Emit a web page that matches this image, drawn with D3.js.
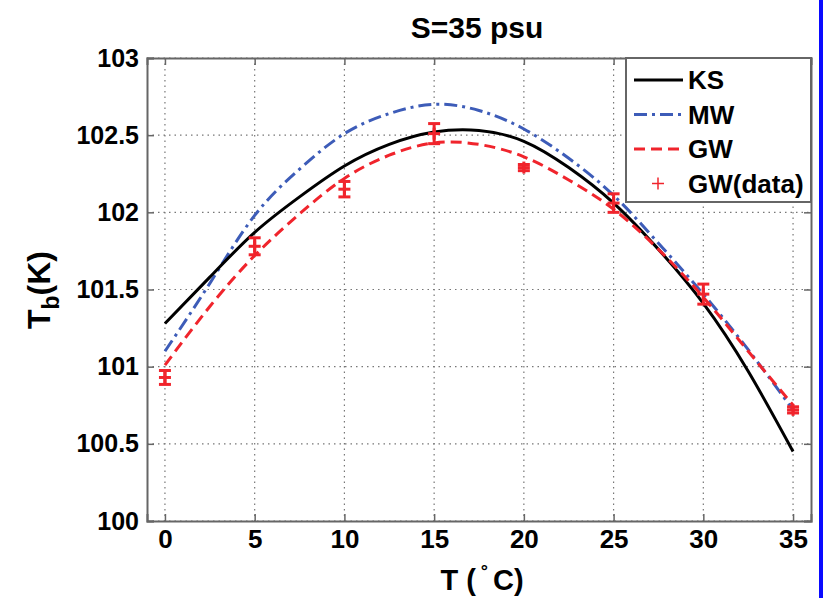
<!DOCTYPE html>
<html>
<head>
<meta charset="utf-8">
<script src="https://cdn.jsdelivr.net/npm/d3@7"></script>
<style>
  body { margin: 0; background: #fff; }
  svg { display: block; }
  text { font-family: "Liberation Sans", Arial, sans-serif; font-weight: bold; fill: #000; }
</style>
</head>
<body>
<svg id="chart" width="823" height="598"></svg>
<script>
// temperature grid for the model curves
var tempCurve = [0, 2.5, 5, 7.5, 10, 12.5, 15, 17.5, 20, 22.5, 25, 27.5, 30, 32.5, 35];
var ksValues = [101.28, 101.58, 101.87, 102.10, 102.30, 102.44, 102.52, 102.53, 102.46, 102.29, 102.06, 101.76, 101.41, 100.97, 100.45];
var mwValues = [101.10, 101.54, 101.98, 102.28, 102.51, 102.64, 102.70, 102.66, 102.54, 102.35, 102.11, 101.80, 101.47, 101.11, 100.72];
var gwValues = [101.01, 101.39, 101.72, 101.99, 102.22, 102.37, 102.45, 102.44, 102.36, 102.21, 102.02, 101.76, 101.45, 101.10, 100.75];

// measured points with error bars
var tempData = [0, 5, 10, 15, 20, 25, 30, 35];
var gwData = [100.93, 101.78, 102.15, 102.51, 102.29, 102.06, 101.47, 100.72];
var gwErr = [0.045, 0.055, 0.05, 0.065, 0.02, 0.06, 0.065, 0.02];

var xTicks = [0, 5, 10, 15, 20, 25, 30, 35];
var yTicks = [100, 100.5, 101, 101.5, 102, 102.5, 103];
var legendLabels = ["KS", "MW", "GW", "GW(data)"];

var plotL = 147, plotR = 811, plotT = 58, plotB = 521;
var svg = d3.select("#chart");

var x = d3.scaleLinear().domain([-1, 36]).range([plotL, plotR]);
var y = d3.scaleLinear().domain([100, 103]).range([plotB, plotT]);

// right edge strip of the slide
svg.append("rect").attr("x", 819).attr("y", 0).attr("width", 4).attr("height", 598).attr("fill", "#0a0aff");

// grid
var grid = svg.append("g").attr("stroke", "#777").attr("stroke-width", 1.2).attr("stroke-dasharray", "1.5,4");
xTicks.forEach(function (t) {
  grid.append("line").attr("x1", x(t)).attr("x2", x(t)).attr("y1", plotT).attr("y2", plotB);
});
yTicks.forEach(function (t) {
  grid.append("line").attr("x1", plotL).attr("x2", plotR).attr("y1", y(t)).attr("y2", y(t));
});

// axes
var xAxis = svg.append("g").attr("transform", "translate(0," + plotB + ")")
  .call(d3.axisBottom(x).tickValues(xTicks).tickSize(-7).tickPadding(9));
var yAxis = svg.append("g").attr("transform", "translate(" + plotL + ",0)")
  .call(d3.axisLeft(y).tickValues(yTicks).tickSize(-7).tickPadding(8).tickFormat(d3.format("")));
svg.append("g").attr("transform", "translate(0," + plotT + ")")
  .call(d3.axisTop(x).tickValues(xTicks).tickSize(-7).tickFormat(""));
svg.append("g").attr("transform", "translate(" + plotR + ",0)")
  .call(d3.axisRight(y).tickValues(yTicks).tickSize(-7).tickFormat(""));

svg.selectAll(".domain").attr("stroke", "#666").attr("stroke-width", 2);
svg.selectAll(".tick line").attr("stroke", "#666").attr("stroke-width", 1.5);
xAxis.selectAll("text").attr("font-size", 26).attr("font-family", "Liberation Sans").attr("font-weight", "bold");
yAxis.selectAll("text").attr("font-size", 25).attr("font-family", "Liberation Sans").attr("font-weight", "bold");

// model curves
function curveData(vals) {
  return tempCurve.map(function (t, i) { return [t, vals[i]]; });
}
var line = d3.line().x(function (d) { return x(d[0]); }).y(function (d) { return y(d[1]); }).curve(d3.curveNatural);

svg.append("path").attr("d", line(curveData(mwValues))).attr("fill", "none")
  .attr("stroke", "#3d5cb8").attr("stroke-width", 3).attr("stroke-dasharray", "13,5,3,5");
svg.append("path").attr("d", line(curveData(ksValues))).attr("fill", "none")
  .attr("stroke", "#000").attr("stroke-width", 3);
svg.append("path").attr("d", line(curveData(gwValues))).attr("fill", "none")
  .attr("stroke", "#f0242c").attr("stroke-width", 3).attr("stroke-dasharray", "11,6");

// data points with error bars
var pts = svg.append("g").attr("stroke", "#f0242c").attr("stroke-width", 3);
tempData.forEach(function (t, i) {
  var cx = x(t), lo = y(gwData[i] - gwErr[i]), hi = y(gwData[i] + gwErr[i]), cy = y(gwData[i]);
  pts.append("line").attr("x1", cx).attr("x2", cx).attr("y1", lo).attr("y2", hi);
  pts.append("line").attr("x1", cx - 6).attr("x2", cx + 6).attr("y1", lo).attr("y2", lo);
  pts.append("line").attr("x1", cx - 6).attr("x2", cx + 6).attr("y1", hi).attr("y2", hi);
  pts.append("line").attr("x1", cx - 6).attr("x2", cx + 6).attr("y1", cy).attr("y2", cy);
  pts.append("line").attr("x1", cx).attr("x2", cx).attr("y1", cy - 6).attr("y2", cy + 6);
});

// titles
svg.append("text").attr("x", 477).attr("y", 38).attr("text-anchor", "middle").attr("font-size", 30).text("S=35 psu");

var xl = svg.append("text").attr("x", 482).attr("y", 590).attr("text-anchor", "middle").attr("font-size", 29);
xl.append("tspan").text("T (");
xl.append("tspan").attr("font-size", 18).attr("dy", -13).text(" \u00B0 ");
xl.append("tspan").attr("dy", 13).text("C)");

var yl = svg.append("text").attr("transform", "translate(50,290) rotate(-90)").attr("text-anchor", "middle").attr("font-size", 32);
yl.append("tspan").text("T");
yl.append("tspan").attr("font-size", 23).attr("dy", 9).text("b");
yl.append("tspan").attr("dy", -9).text("(K)");

// legend
var lg = svg.append("g");
lg.append("rect").attr("x", 626).attr("y", plotT).attr("width", plotR - 626).attr("height", 144)
  .attr("fill", "#fff").attr("stroke", "#666").attr("stroke-width", 2);
var legendStyles = [
  { stroke: "#000", dash: null },
  { stroke: "#3d5cb8", dash: "13,5,3,5" },
  { stroke: "#f0242c", dash: "11,6" },
  { stroke: "#f0242c", dash: "marker" }
];
legendLabels.forEach(function (name, i) {
  var ly = 80 + i * 34.5;
  var s = legendStyles[i];
  if (s.dash === "marker") {
    lg.append("line").attr("x1", 652).attr("x2", 664).attr("y1", ly).attr("y2", ly).attr("stroke", s.stroke).attr("stroke-width", 1.5);
    lg.append("line").attr("x1", 658).attr("x2", 658).attr("y1", ly - 6).attr("y2", ly + 6).attr("stroke", s.stroke).attr("stroke-width", 1.5);
  } else {
    lg.append("line").attr("x1", 634).attr("x2", 683).attr("y1", ly).attr("y2", ly)
      .attr("stroke", s.stroke).attr("stroke-width", 3).attr("stroke-dasharray", s.dash);
  }
  lg.append("text").attr("x", 688).attr("y", ly + 9).attr("font-size", 26).text(name);
});
</script>
</body>
</html>
